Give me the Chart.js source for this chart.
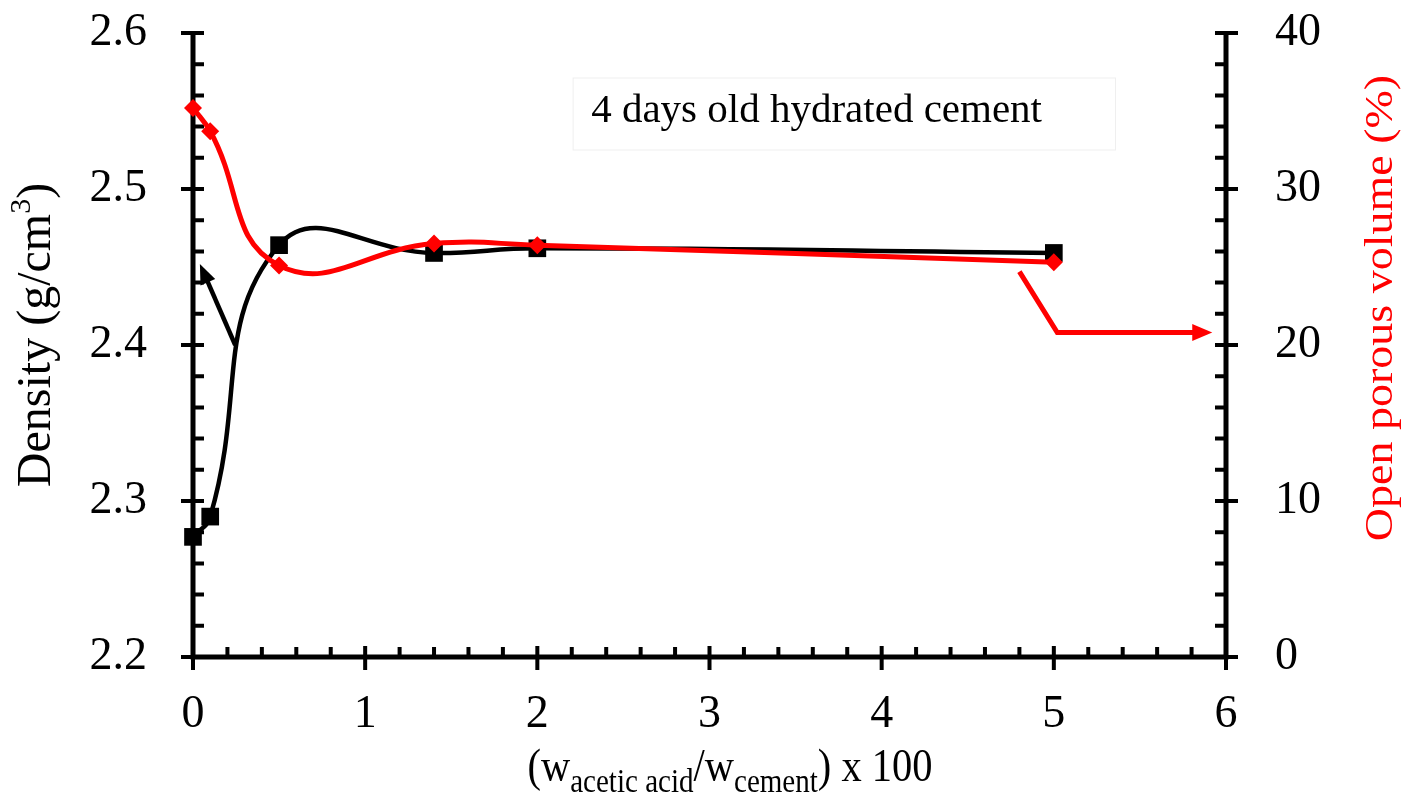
<!DOCTYPE html>
<html><head><meta charset="utf-8">
<script src="https://cdn.jsdelivr.net/npm/chart.js@4/dist/chart.umd.min.js"></script>
<style>html,body{margin:0;padding:0;background:#fff;} #wrap{width:1402px;height:803px;position:relative}</style>
</head><body><div id="wrap"><canvas id="c" width="1402" height="803"></canvas></div>
<script>
// ---- data ----
const xValues = [0, 0.1, 0.5, 1.4, 2, 5];
const density = [2.277, 2.290, 2.464, 2.459, 2.462, 2.459];
const porosity = [35.2, 33.7, 25.1, 26.5, 26.4, 25.3];
const xTickValues = [0, 1, 2, 3, 4, 5, 6];
const densityTickValues = [2.2, 2.3, 2.4, 2.5, 2.6];
const porosityTickValues = [0, 10, 20, 30, 40];
const annotationText = '4 days old hydrated cement';
const densityTitle = ['Density (g/cm', '3', ')'];
const porosityTitle = 'Open porous volume (%)';
const xTitleParts = ['(w', 'acetic acid', '/w', 'cement', ') x 100'];
// annotation arrows in data coordinates
const densityArrowX = [0.245, 0.04];
const densityArrowY = [2.400, 2.452];
const porosityArrowX = [4.80, 5.02, 5.92];
const porosityArrowY = [24.7, 20.8, 20.8];

const FONT = '"Liberation Serif", "Times New Roman", serif';
const RED = '#ff0000';

const densityPts = xValues.map((x, i) => ({x, y: density[i]}));
const porosityPts = xValues.map((x, i) => ({x, y: porosity[i]}));

function arrowHead(ctx, x0, y0, x1, y1, len, wid, color) {
  const a = Math.atan2(y1 - y0, x1 - x0);
  ctx.save();
  ctx.fillStyle = color;
  ctx.translate(x1, y1);
  ctx.rotate(a);
  ctx.beginPath();
  ctx.moveTo(0, 0);
  ctx.lineTo(-len, -wid / 2);
  ctx.lineTo(-len, wid / 2);
  ctx.closePath();
  ctx.fill();
  ctx.restore();
}

function drawParts(ctx, parts, cx, cy, rot, sAlong, sAcross, color) {
  ctx.save();
  ctx.translate(cx, cy);
  ctx.rotate(rot);
  ctx.scale(sAlong, sAcross);
  ctx.fillStyle = color;
  ctx.textBaseline = 'alphabetic';
  ctx.textAlign = 'left';
  let total = 0;
  parts.forEach(p => { ctx.font = p.size + 'px ' + FONT; p.w = ctx.measureText(p.text).width; total += p.w; });
  let x = -total / 2;
  parts.forEach(p => { ctx.font = p.size + 'px ' + FONT; ctx.fillText(p.text, x, p.dy); x += p.w; });
  ctx.restore();
}

const decorPlugin = {
  id: 'decor',
  beforeDatasetsDraw(chart) {
    const ctx = chart.ctx;
    const xs = chart.scales.x, ys = chart.scales.y, y1 = chart.scales.y1;
    const L = xs.left, R = xs.right, T = ys.top, B = ys.bottom;
    ctx.save();
    ctx.strokeStyle = '#000';
    ctx.lineCap = 'butt';
    ctx.lineWidth = 5;
    ctx.beginPath();
    ctx.moveTo(L, T - 2); ctx.lineTo(L, B + 2.5);
    ctx.moveTo(L - 2.5, B); ctx.lineTo(R + 2.5, B);
    ctx.moveTo(R, T - 2); ctx.lineTo(R, B + 2.5);
    ctx.stroke();
    ctx.lineWidth = 4;
    ctx.beginPath();
    for (let i = 0; i <= 30; i++) {
      const px = xs.getPixelForValue(i * 0.2);
      if (i % 5 === 0) { ctx.moveTo(px, B - 11); ctx.lineTo(px, B + 13); }
      else { ctx.moveTo(px, B); ctx.lineTo(px, B - 10); }
    }
    for (let i = 0; i <= 20; i++) {
      const py = ys.getPixelForValue(2.2 + i * 0.02);
      if (i % 5 === 0) { ctx.moveTo(L - 12, py); ctx.lineTo(L + 11, py); }
      else { ctx.moveTo(L, py); ctx.lineTo(L + 11, py); }
    }
    for (let i = 0; i <= 20; i++) {
      const py = y1.getPixelForValue(i * 2);
      if (i % 5 === 0) { ctx.moveTo(R - 11, py); ctx.lineTo(R + 12, py); }
      else { ctx.moveTo(R, py); ctx.lineTo(R - 11, py); }
    }
    ctx.stroke();
    ctx.restore();
  },
  afterDatasetsDraw(chart) {
    const ctx = chart.ctx;
    const xs = chart.scales.x, ys = chart.scales.y, y1 = chart.scales.y1;
    const area = chart.chartArea;
    ctx.save();
    const bx = area.left + (area.right - area.left) * 0.368;
    const bw = (area.right - area.left) * 0.525;
    const by = area.top + 45, bh = 72;
    ctx.fillStyle = '#fff';
    ctx.fillRect(bx, by, bw, bh);
    ctx.strokeStyle = '#efefef';
    ctx.lineWidth = 1;
    ctx.strokeRect(bx, by, bw, bh);
    ctx.fillStyle = '#000';
    ctx.font = '41px ' + FONT;
    ctx.textAlign = 'left';
    ctx.textBaseline = 'alphabetic';
    ctx.fillText(annotationText, bx + 18, by + 44);

    const ax0 = xs.getPixelForValue(densityArrowX[0]), ay0 = ys.getPixelForValue(densityArrowY[0]);
    const ax1 = xs.getPixelForValue(densityArrowX[1]), ay1 = ys.getPixelForValue(densityArrowY[1]);
    const ang = Math.atan2(ay1 - ay0, ax1 - ax0);
    ctx.strokeStyle = '#000';
    ctx.lineWidth = 4.5;
    ctx.beginPath();
    ctx.moveTo(ax0, ay0);
    ctx.lineTo(ax1 - Math.cos(ang) * 14, ay1 - Math.sin(ang) * 14);
    ctx.stroke();
    arrowHead(ctx, ax0, ay0, ax1, ay1, 20, 16, '#000');

    const pts = porosityArrowX.map((x, i) => [xs.getPixelForValue(x), y1.getPixelForValue(porosityArrowY[i])]);
    ctx.strokeStyle = RED;
    ctx.lineWidth = 5;
    ctx.lineJoin = 'miter';
    ctx.beginPath();
    ctx.moveTo(pts[0][0], pts[0][1]);
    ctx.lineTo(pts[1][0], pts[1][1]);
    ctx.lineTo(pts[2][0] - 14, pts[2][1]);
    ctx.stroke();
    arrowHead(ctx, pts[1][0], pts[1][1], pts[2][0], pts[2][1], 20, 17, RED);
    ctx.restore();

    drawParts(ctx, [
      {text: densityTitle[0], size: 48, dy: 0},
      {text: densityTitle[1], size: 30, dy: -20},
      {text: densityTitle[2], size: 48, dy: 0}
    ], 50, 335, -Math.PI / 2, 1, 1, '#000');
    drawParts(ctx, [{text: porosityTitle, size: 46, dy: 0}], 1392, 308, -Math.PI / 2, 1, 0.85, RED);
    drawParts(ctx, [
      {text: xTitleParts[0], size: 46, dy: 0},
      {text: xTitleParts[1], size: 33, dy: 11},
      {text: xTitleParts[2], size: 46, dy: 0},
      {text: xTitleParts[3], size: 33, dy: 11},
      {text: xTitleParts[4], size: 46, dy: 0}
    ], 730, 781, 0, 0.88, 1, '#000');
  }
};

new Chart(document.getElementById('c'), {
  type: 'line',
  data: {
    datasets: [
      {
        label: 'Open porous volume',
        data: porosityPts,
        yAxisID: 'y1',
        borderColor: RED,
        backgroundColor: RED,
        borderWidth: 5,
        pointStyle: 'rectRot',
        pointRadius: 9,
        pointBorderWidth: 0,
        tension: 0.45,
        order: 0,
        clip: false
      },
      {
        label: 'Density',
        data: densityPts,
        yAxisID: 'y',
        borderColor: '#000',
        backgroundColor: '#000',
        borderWidth: 4.5,
        pointStyle: 'rect',
        pointRadius: 12.5,
        pointBorderWidth: 0,
        tension: 0.45,
        order: 1,
        clip: false
      }
    ]
  },
  options: {
    responsive: false,
    animation: false,
    devicePixelRatio: 1,
    layout: {padding: {top: 33, left: 0, right: 0, bottom: 0}},
    plugins: {legend: {display: false}, tooltip: {enabled: false}},
    scales: {
      x: {
        type: 'linear', min: 0, max: 6,
        afterBuildTicks: s => { s.ticks = xTickValues.map(v => ({value: v})); },
        ticks: {font: {family: FONT, size: 46}, color: '#000', padding: 22, callback: v => String(v), maxRotation: 0},
        grid: {display: false}, border: {display: false},
        afterFit: s => { s.height = 146; s.paddingLeft = 0; s.paddingRight = 0; }
      },
      y: {
        position: 'left', min: 2.2, max: 2.6,
        afterBuildTicks: s => { s.ticks = densityTickValues.map(v => ({value: v})); },
        ticks: {font: {family: FONT, size: 46}, color: '#000', padding: 38, callback: v => Number(v).toFixed(1)},
        grid: {display: false}, border: {display: false},
        afterFit: s => { s.width = 193; s.paddingTop = 0; s.paddingBottom = 0; }
      },
      y1: {
        position: 'right', min: 0, max: 40,
        afterBuildTicks: s => { s.ticks = porosityTickValues.map(v => ({value: v})); },
        ticks: {font: {family: FONT, size: 46}, color: '#000', padding: 41, callback: v => String(v)},
        grid: {display: false}, border: {display: false},
        afterFit: s => { s.width = 176; s.paddingTop = 0; s.paddingBottom = 0; }
      }
    }
  },
  plugins: [decorPlugin]
});
</script></body></html>
